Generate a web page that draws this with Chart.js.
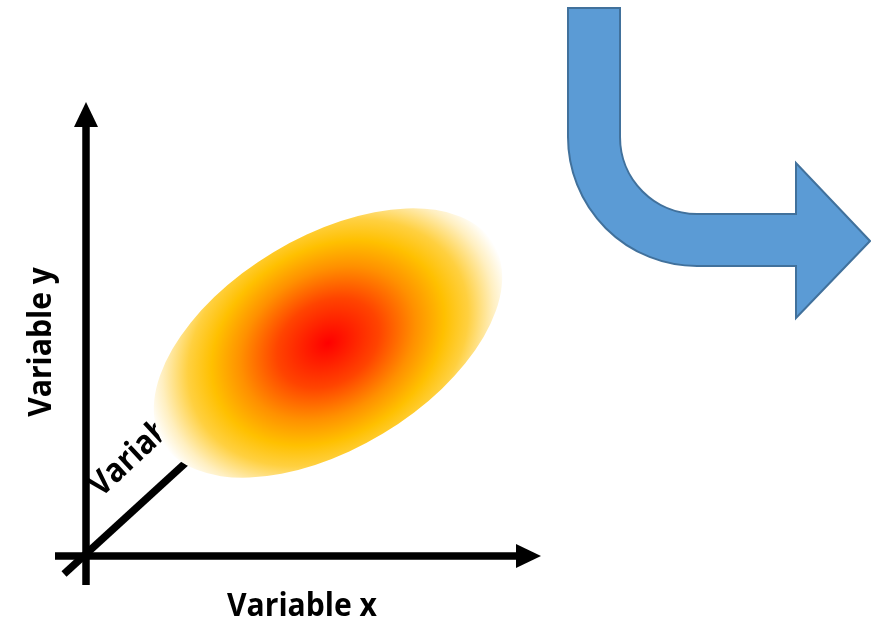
<!DOCTYPE html>
<html>
<head>
<meta charset="utf-8">
<script src="https://cdn.jsdelivr.net/npm/chart.js@4"></script>
<style>
  html, body { margin: 0; padding: 0; background: #fff; }
  #wrap { width: 871px; height: 620px; }
</style>
</head>
<body>
<div id="wrap"><canvas id="diagram"></canvas></div>
<script>
// Coordenadas do diagrama (espaço de dados = 871 x 620, y para baixo)
const yAxisLine = [{x: 86, y: 585}, {x: 86, y: 124}];
const xAxisLine = [{x: 55, y: 556}, {x: 518, y: 556}];
const zAxisLine = [{x: 64, y: 574}, {x: 192, y: 457}];
const yArrowHead = [[86, 102], [74, 127], [98, 127]];
const xArrowHead = [[541, 556], [516, 544], [516, 568]];

// Rótulos dos eixos
const axisLabels = ['Variable x', 'Variable y', 'Variable z'];

// Nuvem de densidade: centro, semi-eixos e inclinação (graus)
const cloudCenter = [328, 343];
const cloudAxes = [193, 106];
const cloudTilt = -31;

// Seta azul dobrada
const bendCenter = [697, 137];
const bendRadii = [77, 129];
const bendTopY = 8;
const bendHeadBaseX = 796;
const bendHeadY = [163, 318];
const bendTip = [870, 241];

const drawPlugin = {
    id: 'diagramExtras',
    afterDatasetsDraw(chart) {
        const ctx = chart.ctx;
        const sx = chart.scales.x, sy = chart.scales.y;
        const px = v => sx.getPixelForValue(v);
        const py = v => sy.getPixelForValue(v);
        const len = r => px(r) - px(0);

        // Pontas das setas dos eixos
        ctx.save();
        ctx.fillStyle = '#000';
        [yArrowHead, xArrowHead].forEach(head => {
            ctx.beginPath();
            head.forEach((p, i) => i ? ctx.lineTo(px(p[0]), py(p[1])) : ctx.moveTo(px(p[0]), py(p[1])));
            ctx.closePath();
            ctx.fill();
        });

        // Textos (fonte condensada na horizontal, estilo Calibri)
        ctx.fillStyle = '#000';
        ctx.font = 'bold 33px "Open Sans"';
        const squeeze = 150 / ctx.measureText(axisLabels[0]).width;

        const label = (text, x, y, angle, align) => {
            ctx.save();
            ctx.translate(px(x), py(y));
            ctx.rotate(angle * Math.PI / 180);
            ctx.scale(squeeze, 1);
            ctx.textAlign = align;
            ctx.textBaseline = 'alphabetic';
            ctx.fillText(text, 0, 0);
            ctx.restore();
        };
        label(axisLabels[0], 302, 616, 0, 'center');
        label(axisLabels[1], 51, 342, -90, 'center');
        // Rótulo do eixo diagonal (coberto pela nuvem)
        label(axisLabels[2], 101, 498, -43, 'left');

        // Nuvem em gradiente
        ctx.save();
        ctx.translate(px(cloudCenter[0]), py(cloudCenter[1]));
        ctx.rotate(cloudTilt * Math.PI / 180);
        const a = len(cloudAxes[0]), b = len(cloudAxes[1]);
        ctx.beginPath();
        ctx.ellipse(0, 0, a, b, 0, 0, Math.PI * 2);
        ctx.clip();
        ctx.scale(1, (b * 1.38) / a);
        const g = ctx.createRadialGradient(0, 0, 0, 0, 0, a);
        g.addColorStop(0, '#ff0000');
        g.addColorStop(0.28, '#ff4400');
        g.addColorStop(0.48, '#ff9000');
        g.addColorStop(0.64, '#ffc000');
        g.addColorStop(0.77, '#ffd040');
        g.addColorStop(0.91, '#ffefc0');
        g.addColorStop(1, '#ffffff');
        ctx.fillStyle = g;
        ctx.fillRect(-a * 2, -a * 2, a * 4, a * 4);
        ctx.restore();

        // Seta azul dobrada
        const cx = px(bendCenter[0]), cy = py(bendCenter[1]);
        const ri = len(bendRadii[0]), ro = len(bendRadii[1]);
        ctx.beginPath();
        ctx.moveTo(cx - ro, py(bendTopY));
        ctx.lineTo(cx - ri, py(bendTopY));
        ctx.lineTo(cx - ri, cy);
        ctx.arc(cx, cy, ri, Math.PI, Math.PI / 2, true);
        ctx.lineTo(px(bendHeadBaseX), cy + ri);
        ctx.lineTo(px(bendHeadBaseX), py(bendHeadY[0]));
        ctx.lineTo(px(bendTip[0]), py(bendTip[1]));
        ctx.lineTo(px(bendHeadBaseX), py(bendHeadY[1]));
        ctx.lineTo(px(bendHeadBaseX), cy + ro);
        ctx.lineTo(cx, cy + ro);
        ctx.arc(cx, cy, ro, Math.PI / 2, Math.PI, false);
        ctx.closePath();
        ctx.fillStyle = '#5b9bd5';
        ctx.fill();
        ctx.lineWidth = 2;
        ctx.strokeStyle = '#41719c';
        ctx.stroke();
        ctx.restore();
    }
};

const lineSet = data => ({
    data: data,
    showLine: true,
    borderColor: '#000',
    borderWidth: 7.5,
    pointRadius: 0,
    borderCapStyle: 'butt'
});

new Chart(document.getElementById('diagram'), {
    type: 'scatter',
    data: {
        datasets: [lineSet(yAxisLine), lineSet(xAxisLine), lineSet(zAxisLine)]
    },
    options: {
        responsive: true,
        maintainAspectRatio: false,
        animation: false,
        layout: { padding: 0 },
        plugins: { legend: { display: false }, tooltip: { enabled: false } },
        scales: {
            x: { type: 'linear', min: 0, max: 871, display: false },
            y: { type: 'linear', min: 0, max: 620, reverse: true, display: false }
        }
    },
    plugins: [drawPlugin]
});
</script>
</body>
</html>
